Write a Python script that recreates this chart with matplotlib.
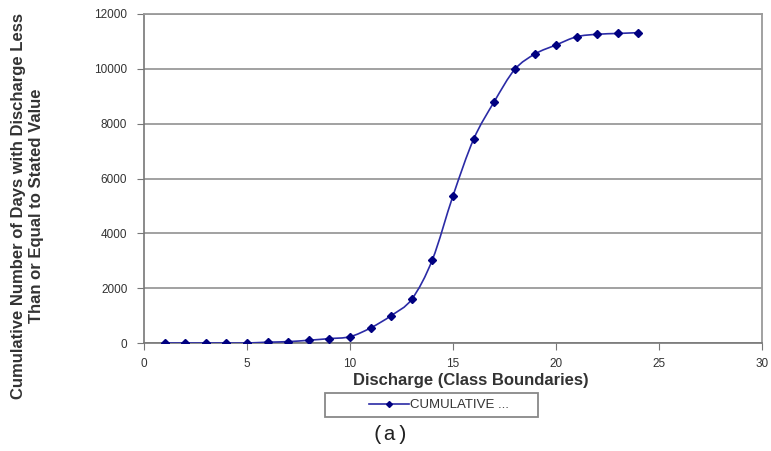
import matplotlib.pyplot as plt
from matplotlib.path import Path
from matplotlib.patches import PathPatch, Rectangle
from matplotlib.lines import Line2D
import numpy as np

# Dados
classe = list(range(1, 25))
cumulativo = [0, 0, 0, 0, 0, 30, 50, 100, 160, 230, 550, 1000, 1600, 3040,
              5370, 7430, 8800, 9980, 10550, 10870, 11170, 11260, 11290, 11320]
x_ticks = [0, 5, 10, 15, 20, 25, 30]
y_ticks = [0, 2000, 4000, 6000, 8000, 10000, 12000]


def curva_suave(xs, ys):
    # Curva suavizada estilo Excel (Bezier pelos pontos)
    pts = np.column_stack([xs, ys]).astype(float)
    n = len(pts)
    verts = [pts[0]]
    codes = [Path.MOVETO]
    for i in range(n - 1):
        p0 = pts[i - 1] if i > 0 else pts[i]
        p1 = pts[i]
        p2 = pts[i + 1]
        p3 = pts[i + 2] if i + 2 < n else pts[i + 1]
        c1 = p1 + (p2 - p0) / 6.0
        c2 = p2 - (p3 - p1) / 6.0
        verts += [c1, c2, p2]
        codes += [Path.CURVE4] * 3
    return Path(verts, codes)


plt.rcParams['font.family'] = ['Liberation Sans', 'DejaVu Sans']

fig = plt.figure(figsize=(7.71, 4.51), dpi=100)
W, H = 771, 451
ax = fig.add_axes([144 / W, 1 - 343 / H, 618 / W, 329 / H])

cor_linha = '#2b2ba6'
cor_marc = '#000080'

ax.add_patch(PathPatch(curva_suave(classe, cumulativo), facecolor='none',
                       edgecolor=cor_linha, linewidth=1.2, zorder=3))
ax.plot(classe, cumulativo, linestyle='none', marker='D', markersize=4.5,
        color=cor_marc, zorder=4)

ax.set_xlim(0, 30)
ax.set_ylim(0, 12000)
ax.set_xticks(x_ticks)
ax.set_yticks(y_ticks)
ax.tick_params(axis='both', labelsize=8.5, colors='#777777',
               labelcolor='#333333', length=5, direction='out')
ax.tick_params(axis='y', pad=7)
ax.tick_params(axis='x', pad=6)

# Grade horizontal cinza
ax.yaxis.grid(True, color='#9a9a9a', linewidth=1.3)
ax.set_axisbelow(True)

for lado in ['top', 'right']:
    ax.spines[lado].set_color('#9a9a9a')
    ax.spines[lado].set_linewidth(1.3)
for lado in ['left', 'bottom']:
    ax.spines[lado].set_color('#777777')
    ax.spines[lado].set_linewidth(1.2)

# Rótulos dos eixos
fig.text(471 / W, 1 - 381 / H, 'Discharge (Class Boundaries)', fontsize=12,
         fontweight='bold', color='#333333', ha='center', va='center')
fig.text(28 / W, 1 - 206 / H,
         'Cumulative Number of Days with Discharge Less\n'
         'Than or Equal to Stated Value',
         fontsize=12, fontweight='bold', color='#333333', rotation=90,
         ha='center', va='center', multialignment='center', linespacing=1.25)

# Legenda abaixo do gráfico (caixa desenhada à parte)
fig.patches.append(Rectangle((325 / W, 1 - 417 / H), 213 / W, 24 / H,
                             transform=fig.transFigure, facecolor='white',
                             edgecolor='#888888', linewidth=1.3))
handle = Line2D([], [], color=cor_linha, linewidth=1.2, marker='D',
                markersize=3, markerfacecolor=cor_marc, markeredgecolor=cor_marc)
leg = fig.legend([handle], ['CUMULATIVE ...'], loc='center left',
                 bbox_to_anchor=(369 / W, 1 - 405 / H), fontsize=9.5,
                 frameon=False, handlelength=3.0, handletextpad=0.1,
                 borderpad=0, borderaxespad=0)
for t in leg.get_texts():
    t.set_color('#333333')

fig.text(390 / W, 1 - 435 / H, '(a)', fontsize=15, family='Liberation Mono',
         ha='center', va='center', color='#222222')

fig.savefig('out.png', dpi=100)
